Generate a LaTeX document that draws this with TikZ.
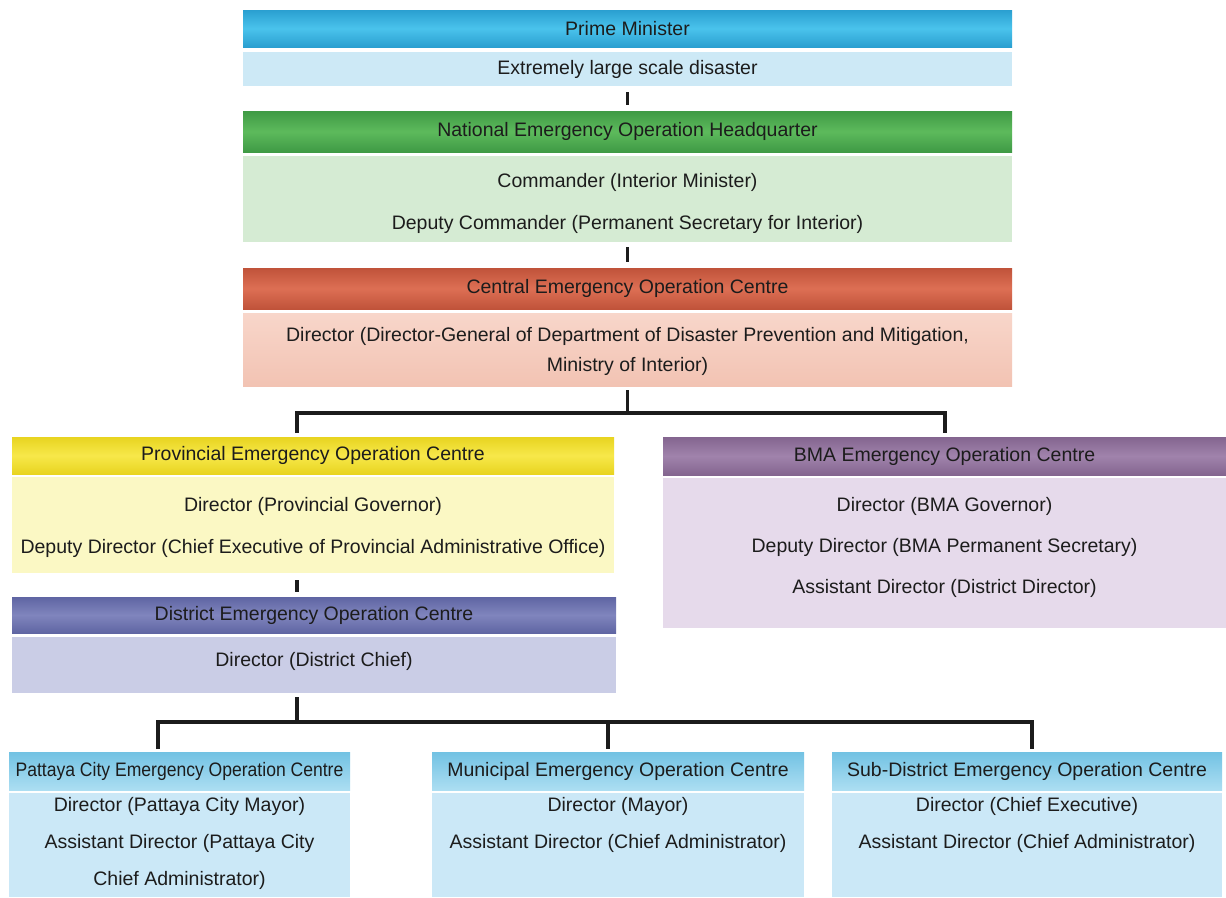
\documentclass[tikz,border=0pt]{standalone}
\usepackage{fontspec}
\setmainfont{Liberation Sans}
\newfontfamily\narrowsans[FakeStretch=0.9]{Liberation Sans}
\definecolor{pmD}{HTML}{2A9FD0}\definecolor{pmL}{HTML}{4AC3EC}\definecolor{pmB}{HTML}{CDE9F6}
\definecolor{naD}{HTML}{3F9A45}\definecolor{naL}{HTML}{5DBA5C}\definecolor{naB}{HTML}{D5EBD3}
\definecolor{ceD}{HTML}{C0533A}\definecolor{ceL}{HTML}{DD6F54}\definecolor{ceT}{HTML}{F8D6CA}\definecolor{ceB}{HTML}{F2C3B3}
\definecolor{prD}{HTML}{E8D420}\definecolor{prL}{HTML}{F7E84A}\definecolor{prB}{HTML}{FBF8C4}
\definecolor{diD}{HTML}{5F65A3}\definecolor{diL}{HTML}{8085BD}\definecolor{diB}{HTML}{CACDE6}
\definecolor{bmD}{HTML}{84658F}\definecolor{bmL}{HTML}{A083AC}\definecolor{bmB}{HTML}{E6DAEB}
\definecolor{loD}{HTML}{72C2E3}\definecolor{loL}{HTML}{ACDEF2}\definecolor{loB}{HTML}{CBE8F7}
\definecolor{ink}{HTML}{1C1C1C}
\tikzset{
  box/.style={anchor=north west, inner sep=0pt, outer sep=0pt, text=ink,
    font=\fontsize{19.5}{24}\selectfont},
  hdr/.style n args={2}{box, top color=#1, bottom color=#1, middle color=#2},
  bdy/.style={box, fill=#1},
  line/.style={inner sep=0pt, text=ink, font=\fontsize{19.5}{24}\selectfont},
  conn/.style={line width=3.2pt, draw=ink},
}
\begin{document}
\begin{tikzpicture}[x=1pt,y=-1pt]
\useasboundingbox[fill=white] (0,0) rectangle (1226,897);
% top column
\node[hdr={pmD}{pmL}, minimum width=769pt, minimum height=37pt] (pm) at (243,10) {Prime Minister};
\node[bdy=pmB, minimum width=769pt, minimum height=34pt] (pmb) at (243,52) {Extremely large scale disaster};
\node[hdr={naD}{naL}, minimum width=769pt, minimum height=41pt] (nat) at (243,111) {National Emergency Operation Headquarter};
\node[bdy=naB, minimum width=769pt, minimum height=86pt] (natb) at (243,156) {};
\node[line] (nat1) at (627.5,182) {Commander (Interior Minister)};
\node[line] (nat2) at (627.5,224) {Deputy Commander (Permanent Secretary for Interior)};
\node[hdr={ceD}{ceL}, minimum width=769pt, minimum height=41pt] (cen) at (243,268) {Central Emergency Operation Centre};
\node[box, top color=ceT, bottom color=ceB, minimum width=769pt, minimum height=73pt] (cenb) at (243,313) {};
\node[line] (cen1) at (627.5,336) {Director (Director-General of Department of Disaster Prevention and Mitigation,};
\node[line] (cen2) at (627.5,366) {Ministry of Interior)};
% provincial
\node[hdr={prD}{prL}, minimum width=602pt, minimum height=37pt] (prov) at (12,437) {Provincial Emergency Operation Centre};
\node[bdy=prB, minimum width=602pt, minimum height=96pt] (provb) at (12,477) {};
\node[line] (prov1) at (313,506) {Director (Provincial Governor)};
\node[line] (prov2) at (313,548) {Deputy Director (Chief Executive of Provincial Administrative Office)};
% district
\node[hdr={diD}{diL}, minimum width=604pt, minimum height=36pt] (dist) at (12,597) {District Emergency Operation Centre};
\node[bdy=diB, minimum width=604pt, minimum height=56pt] (distb) at (12,637) {};
\node[line] (dist1) at (314,661) {Director (District Chief)};
% BMA
\node[hdr={bmD}{bmL}, minimum width=563pt, minimum height=38pt] (bma) at (663,437) {BMA Emergency Operation Centre};
\node[bdy=bmB, minimum width=563pt, minimum height=150pt] (bmab) at (663,478) {};
\node[line] (bma1) at (944.5,506) {Director (BMA Governor)};
\node[line] (bma2) at (944.5,547) {Deputy Director (BMA Permanent Secretary)};
\node[line] (bma3) at (944.5,588) {Assistant Director (District Director)};
% bottom row
\node[box, top color=loD, bottom color=loL, minimum width=341pt, minimum height=38pt, font=\narrowsans\fontsize{19.5}{24}\selectfont] (pat) at (9,752) {Pattaya City Emergency Operation Centre};
\node[bdy=loB, minimum width=341pt, minimum height=104pt] (patb) at (9,793) {};
\node[line] (pat1) at (179.5,806) {Director (Pattaya City Mayor)};
\node[line] (pat2) at (179.5,843) {Assistant Director (Pattaya City};
\node[line] (pat3) at (179.5,880) {Chief Administrator)};
\node[box, top color=loD, bottom color=loL, minimum width=372pt, minimum height=38pt] (mun) at (432,752) {Municipal Emergency Operation Centre};
\node[bdy=loB, minimum width=372pt, minimum height=104pt] (munb) at (432,793) {};
\node[line] (mun1) at (618,806) {Director (Mayor)};
\node[line] (mun2) at (618,843) {Assistant Director (Chief Administrator)};
\node[box, top color=loD, bottom color=loL, minimum width=390pt, minimum height=38pt] (sub) at (832,752) {Sub-District Emergency Operation Centre};
\node[bdy=loB, minimum width=390pt, minimum height=104pt] (subb) at (832,793) {};
\node[line] (sub1) at (1027,806) {Director (Chief Executive)};
\node[line] (sub2) at (1027,843) {Assistant Director (Chief Administrator)};
% connectors
\draw[conn, shorten <=6pt, shorten >=6pt] (pmb.south) -- (nat.north);
\draw[conn, shorten <=5pt, shorten >=6pt] (natb.south) -- (cen.north);
\coordinate (pdrop) at (297,413);
\coordinate (bdrop) at (945,413);
\draw[conn] ([yshift=-4pt]cenb.south) -- (cenb.south |- pdrop);
\draw[conn] ([yshift=4pt]prov.north -| pdrop) -- (pdrop) -- (bdrop) -- ([yshift=4pt]bma.north -| bdrop);
\draw[conn, shorten <=7pt, shorten >=5pt] (provb.south -| pdrop) -- (dist.north -| pdrop);
\coordinate (l1) at (158,722);
\coordinate (l2) at (608,722);
\coordinate (l3) at (1032,722);
\draw[conn] ([yshift=-4pt]distb.south -| pdrop) -- (pdrop |- l1);
\draw[conn] ([yshift=3pt]pat.north -| l1) -- (l1) -- (l3) -- ([yshift=3pt]sub.north -| l3);
\draw[conn] (l2) -- ([yshift=3pt]mun.north -| l2);
\end{tikzpicture}
\end{document}
